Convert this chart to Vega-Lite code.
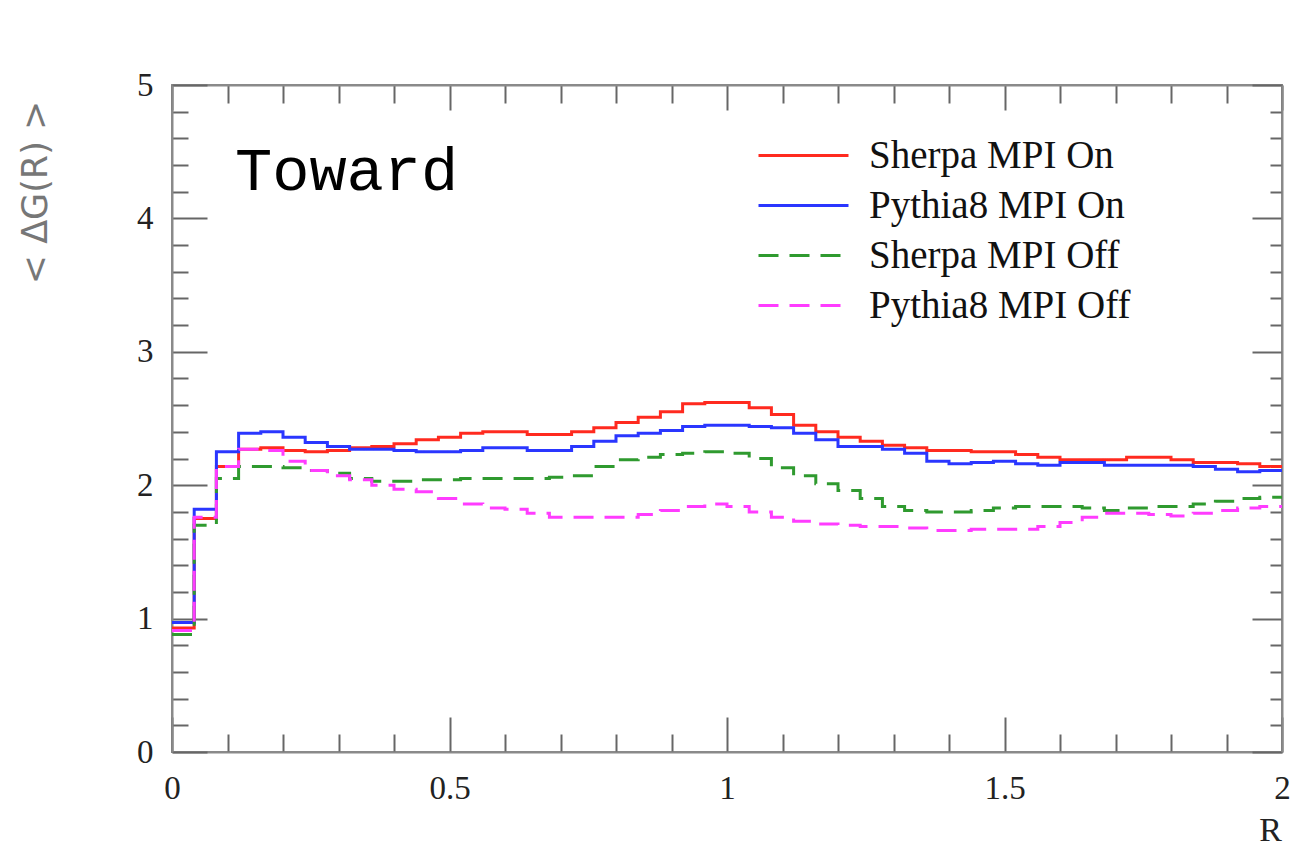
{
  "$schema": "https://vega.github.io/schema/vega-lite/v6.json",
  "width": 1110,
  "height": 667,
  "autosize": {"type": "none"},
  "padding": {"left": 172, "top": 85, "right": 29, "bottom": 105},
  "background": "white",
  "title": {
    "text": "Toward",
    "anchor": "start",
    "orient": "top",
    "frame": "group",
    "font": "Liberation Mono",
    "fontSize": 62,
    "fontWeight": "normal",
    "color": "black",
    "baseline": "middle",
    "offset": 0,
    "dx": 63,
    "dy": 164
  },
  "config": {
    "view": {"stroke": "#8a8a8a", "strokeWidth": 2},
    "axis": {
      "grid": false,
      "domainColor": "#8a8a8a",
      "domainWidth": 2,
      "tickColor": "#666",
      "tickWidth": 2,
      "labelFont": "Liberation Serif",
      "labelColor": "#222",
      "titleFontWeight": "normal"
    },
    "legend": {
      "orient": "none",
      "legendX": 612,
      "legendY": 51,
      "padding": 0,
      "symbolType": "M-3,0H3",
      "symbolSize": 900,
      "symbolStrokeWidth": 3,
      "labelFont": "Liberation Serif",
      "labelFontSize": 39,
      "labelColor": "#111",
      "labelOffset": 46,
      "labelLimit": 0,
      "rowPadding": 10
    }
  },
  "data": {
    "values": [
      {"r": 0.00, "Sherpa MPI On": 0.93, "Pythia8 MPI On": 0.97, "Sherpa MPI Off": 0.88, "Pythia8 MPI Off": 0.91},
      {"r": 0.04, "Sherpa MPI On": 1.75, "Pythia8 MPI On": 1.82, "Sherpa MPI Off": 1.70, "Pythia8 MPI Off": 1.76},
      {"r": 0.08, "Sherpa MPI On": 2.14, "Pythia8 MPI On": 2.25, "Sherpa MPI Off": 2.05, "Pythia8 MPI Off": 2.14},
      {"r": 0.12, "Sherpa MPI On": 2.27, "Pythia8 MPI On": 2.39, "Sherpa MPI Off": 2.14, "Pythia8 MPI Off": 2.27},
      {"r": 0.16, "Sherpa MPI On": 2.28, "Pythia8 MPI On": 2.40, "Sherpa MPI Off": 2.14, "Pythia8 MPI Off": 2.26},
      {"r": 0.20, "Sherpa MPI On": 2.26, "Pythia8 MPI On": 2.36, "Sherpa MPI Off": 2.13, "Pythia8 MPI Off": 2.18},
      {"r": 0.24, "Sherpa MPI On": 2.25, "Pythia8 MPI On": 2.32, "Sherpa MPI Off": 2.11, "Pythia8 MPI Off": 2.11},
      {"r": 0.28, "Sherpa MPI On": 2.26, "Pythia8 MPI On": 2.29, "Sherpa MPI Off": 2.09, "Pythia8 MPI Off": 2.07},
      {"r": 0.32, "Sherpa MPI On": 2.28, "Pythia8 MPI On": 2.27, "Sherpa MPI Off": 2.05, "Pythia8 MPI Off": 2.04},
      {"r": 0.36, "Sherpa MPI On": 2.29, "Pythia8 MPI On": 2.27, "Sherpa MPI Off": 2.03, "Pythia8 MPI Off": 2.00},
      {"r": 0.40, "Sherpa MPI On": 2.31, "Pythia8 MPI On": 2.26, "Sherpa MPI Off": 2.03, "Pythia8 MPI Off": 1.97},
      {"r": 0.44, "Sherpa MPI On": 2.34, "Pythia8 MPI On": 2.25, "Sherpa MPI Off": 2.04, "Pythia8 MPI Off": 1.95},
      {"r": 0.48, "Sherpa MPI On": 2.36, "Pythia8 MPI On": 2.25, "Sherpa MPI Off": 2.04, "Pythia8 MPI Off": 1.90},
      {"r": 0.52, "Sherpa MPI On": 2.39, "Pythia8 MPI On": 2.26, "Sherpa MPI Off": 2.05, "Pythia8 MPI Off": 1.86},
      {"r": 0.56, "Sherpa MPI On": 2.40, "Pythia8 MPI On": 2.28, "Sherpa MPI Off": 2.05, "Pythia8 MPI Off": 1.83},
      {"r": 0.60, "Sherpa MPI On": 2.40, "Pythia8 MPI On": 2.28, "Sherpa MPI Off": 2.05, "Pythia8 MPI Off": 1.82},
      {"r": 0.64, "Sherpa MPI On": 2.38, "Pythia8 MPI On": 2.26, "Sherpa MPI Off": 2.05, "Pythia8 MPI Off": 1.79},
      {"r": 0.68, "Sherpa MPI On": 2.38, "Pythia8 MPI On": 2.26, "Sherpa MPI Off": 2.06, "Pythia8 MPI Off": 1.76},
      {"r": 0.72, "Sherpa MPI On": 2.40, "Pythia8 MPI On": 2.29, "Sherpa MPI Off": 2.07, "Pythia8 MPI Off": 1.76},
      {"r": 0.76, "Sherpa MPI On": 2.43, "Pythia8 MPI On": 2.33, "Sherpa MPI Off": 2.14, "Pythia8 MPI Off": 1.76},
      {"r": 0.80, "Sherpa MPI On": 2.47, "Pythia8 MPI On": 2.37, "Sherpa MPI Off": 2.19, "Pythia8 MPI Off": 1.76},
      {"r": 0.84, "Sherpa MPI On": 2.51, "Pythia8 MPI On": 2.39, "Sherpa MPI Off": 2.21, "Pythia8 MPI Off": 1.78},
      {"r": 0.88, "Sherpa MPI On": 2.55, "Pythia8 MPI On": 2.41, "Sherpa MPI Off": 2.23, "Pythia8 MPI Off": 1.81},
      {"r": 0.92, "Sherpa MPI On": 2.61, "Pythia8 MPI On": 2.44, "Sherpa MPI Off": 2.24, "Pythia8 MPI Off": 1.84},
      {"r": 0.96, "Sherpa MPI On": 2.62, "Pythia8 MPI On": 2.45, "Sherpa MPI Off": 2.25, "Pythia8 MPI Off": 1.86},
      {"r": 1.00, "Sherpa MPI On": 2.62, "Pythia8 MPI On": 2.45, "Sherpa MPI Off": 2.24, "Pythia8 MPI Off": 1.84},
      {"r": 1.04, "Sherpa MPI On": 2.58, "Pythia8 MPI On": 2.44, "Sherpa MPI Off": 2.20, "Pythia8 MPI Off": 1.80},
      {"r": 1.08, "Sherpa MPI On": 2.53, "Pythia8 MPI On": 2.43, "Sherpa MPI Off": 2.13, "Pythia8 MPI Off": 1.76},
      {"r": 1.12, "Sherpa MPI On": 2.45, "Pythia8 MPI On": 2.39, "Sherpa MPI Off": 2.07, "Pythia8 MPI Off": 1.73},
      {"r": 1.16, "Sherpa MPI On": 2.40, "Pythia8 MPI On": 2.34, "Sherpa MPI Off": 2.01, "Pythia8 MPI Off": 1.71},
      {"r": 1.20, "Sherpa MPI On": 2.36, "Pythia8 MPI On": 2.29, "Sherpa MPI Off": 1.96, "Pythia8 MPI Off": 1.70},
      {"r": 1.24, "Sherpa MPI On": 2.33, "Pythia8 MPI On": 2.29, "Sherpa MPI Off": 1.90, "Pythia8 MPI Off": 1.69},
      {"r": 1.28, "Sherpa MPI On": 2.30, "Pythia8 MPI On": 2.27, "Sherpa MPI Off": 1.84, "Pythia8 MPI Off": 1.69},
      {"r": 1.32, "Sherpa MPI On": 2.28, "Pythia8 MPI On": 2.24, "Sherpa MPI Off": 1.81, "Pythia8 MPI Off": 1.68},
      {"r": 1.36, "Sherpa MPI On": 2.26, "Pythia8 MPI On": 2.18, "Sherpa MPI Off": 1.80, "Pythia8 MPI Off": 1.66},
      {"r": 1.40, "Sherpa MPI On": 2.26, "Pythia8 MPI On": 2.16, "Sherpa MPI Off": 1.80, "Pythia8 MPI Off": 1.66},
      {"r": 1.44, "Sherpa MPI On": 2.25, "Pythia8 MPI On": 2.17, "Sherpa MPI Off": 1.81, "Pythia8 MPI Off": 1.67},
      {"r": 1.48, "Sherpa MPI On": 2.25, "Pythia8 MPI On": 2.18, "Sherpa MPI Off": 1.83, "Pythia8 MPI Off": 1.67},
      {"r": 1.52, "Sherpa MPI On": 2.23, "Pythia8 MPI On": 2.16, "Sherpa MPI Off": 1.84, "Pythia8 MPI Off": 1.67},
      {"r": 1.56, "Sherpa MPI On": 2.21, "Pythia8 MPI On": 2.15, "Sherpa MPI Off": 1.84, "Pythia8 MPI Off": 1.69},
      {"r": 1.60, "Sherpa MPI On": 2.19, "Pythia8 MPI On": 2.17, "Sherpa MPI Off": 1.84, "Pythia8 MPI Off": 1.72},
      {"r": 1.64, "Sherpa MPI On": 2.19, "Pythia8 MPI On": 2.17, "Sherpa MPI Off": 1.83, "Pythia8 MPI Off": 1.76},
      {"r": 1.68, "Sherpa MPI On": 2.19, "Pythia8 MPI On": 2.15, "Sherpa MPI Off": 1.81, "Pythia8 MPI Off": 1.79},
      {"r": 1.72, "Sherpa MPI On": 2.21, "Pythia8 MPI On": 2.15, "Sherpa MPI Off": 1.83, "Pythia8 MPI Off": 1.79},
      {"r": 1.76, "Sherpa MPI On": 2.21, "Pythia8 MPI On": 2.15, "Sherpa MPI Off": 1.84, "Pythia8 MPI Off": 1.78},
      {"r": 1.80, "Sherpa MPI On": 2.19, "Pythia8 MPI On": 2.15, "Sherpa MPI Off": 1.84, "Pythia8 MPI Off": 1.77},
      {"r": 1.84, "Sherpa MPI On": 2.17, "Pythia8 MPI On": 2.14, "Sherpa MPI Off": 1.86, "Pythia8 MPI Off": 1.79},
      {"r": 1.88, "Sherpa MPI On": 2.17, "Pythia8 MPI On": 2.12, "Sherpa MPI Off": 1.88, "Pythia8 MPI Off": 1.81},
      {"r": 1.92, "Sherpa MPI On": 2.16, "Pythia8 MPI On": 2.10, "Sherpa MPI Off": 1.90, "Pythia8 MPI Off": 1.83},
      {"r": 1.96, "Sherpa MPI On": 2.14, "Pythia8 MPI On": 2.11, "Sherpa MPI Off": 1.91, "Pythia8 MPI Off": 1.84},
      {"r": 2.00, "Sherpa MPI On": 2.14, "Pythia8 MPI On": 2.11, "Sherpa MPI Off": 1.91, "Pythia8 MPI Off": 1.84}
    ]
  },
  "resolve": {"axis": {"x": "independent", "y": "independent"}},
  "layer": [
    {
      "transform": [{"fold": ["Sherpa MPI On", "Pythia8 MPI On"], "as": ["series", "v"]}],
      "mark": {"type": "line", "interpolate": "step-after", "strokeWidth": 3},
      "encoding": {
        "x": {
          "field": "r", "type": "quantitative",
          "scale": {"domain": [0, 2], "nice": false, "zero": false},
          "axis": {
            "orient": "bottom",
            "values": [0, 0.1, 0.2, 0.3, 0.4, 0.5, 0.6, 0.7, 0.8, 0.9, 1, 1.1, 1.2, 1.3, 1.4, 1.5, 1.6, 1.7, 1.8, 1.9, 2],
            "labelExpr": "abs(datum.value*2-round(datum.value*2))<1e-6 ? format(datum.value, '.1~f') : ''",
            "tickSize": {"condition": {"test": "abs(datum.value*2-round(datum.value*2))<1e-6", "value": -35}, "value": -18},
            "labelFontSize": 33,
            "labelPadding": 55,
            "labelFlush": false,
            "labelOverlap": false,
            "title": "R",
            "titleFont": "Liberation Serif",
            "titleFontSize": 34,
            "titleColor": "#222",
            "titleX": 1098,
            "titleY": 78,
            "titleAlign": "center",
            "titleBaseline": "middle"
          }
        },
        "y": {
          "field": "v", "type": "quantitative",
          "scale": {"domain": [0, 5], "nice": false, "zero": false},
          "axis": {
            "orient": "left",
            "values": [0, 0.2, 0.4, 0.6, 0.8, 1, 1.2, 1.4, 1.6, 1.8, 2, 2.2, 2.4, 2.6, 2.8, 3, 3.2, 3.4, 3.6, 3.8, 4, 4.2, 4.4, 4.6, 4.8, 5],
            "labelExpr": "abs(datum.value-round(datum.value))<1e-6 ? format(datum.value, 'd') : ''",
            "tickSize": {"condition": {"test": "abs(datum.value-round(datum.value))<1e-6", "value": -35}, "value": -16},
            "labelFontSize": 33,
            "labelPadding": 54,
            "labelFlush": false,
            "labelOverlap": false,
            "title": "< ΔG(R) >",
            "titleFont": "DejaVu Sans",
            "titleFontSize": 35,
            "titleColor": "#777",
            "titleAngle": -90,
            "titleX": -137,
            "titleY": 107,
            "titleAlign": "center",
            "titleBaseline": "middle"
          }
        },
        "color": {
          "field": "series", "type": "nominal", "title": null,
          "scale": {"domain": ["Sherpa MPI On", "Pythia8 MPI On", "Sherpa MPI Off", "Pythia8 MPI Off"], "range": ["#ff2a1f", "#2a36ff", "#2f9a2f", "#ff3cff"]}
        },
        "strokeDash": {
          "field": "series", "type": "nominal", "title": null,
          "scale": {"domain": ["Sherpa MPI On", "Pythia8 MPI On", "Sherpa MPI Off", "Pythia8 MPI Off"], "range": [[1, 0], [1, 0], [20, 11], [20, 11]]}
        }
      }
    },
    {
      "transform": [{"fold": ["Sherpa MPI Off", "Pythia8 MPI Off"], "as": ["series", "v"]}],
      "mark": {"type": "line", "interpolate": "step-after", "strokeWidth": 3},
      "encoding": {
        "x": {
          "field": "r", "type": "quantitative",
          "axis": {
            "orient": "top",
            "values": [0, 0.1, 0.2, 0.3, 0.4, 0.5, 0.6, 0.7, 0.8, 0.9, 1, 1.1, 1.2, 1.3, 1.4, 1.5, 1.6, 1.7, 1.8, 1.9, 2],
            "labels": false,
            "tickSize": {"condition": {"test": "abs(datum.value*2-round(datum.value*2))<1e-6", "value": -25}, "value": -18},
            "title": null
          }
        },
        "y": {
          "field": "v", "type": "quantitative",
          "axis": {
            "orient": "right",
            "values": [0, 0.2, 0.4, 0.6, 0.8, 1, 1.2, 1.4, 1.6, 1.8, 2, 2.2, 2.4, 2.6, 2.8, 3, 3.2, 3.4, 3.6, 3.8, 4, 4.2, 4.4, 4.6, 4.8, 5],
            "labels": false,
            "tickSize": {"condition": {"test": "abs(datum.value-round(datum.value))<1e-6", "value": -30}, "value": -12},
            "title": null
          }
        },
        "color": {"field": "series", "type": "nominal", "title": null},
        "strokeDash": {"field": "series", "type": "nominal", "title": null}
      }
    }
  ]
}
